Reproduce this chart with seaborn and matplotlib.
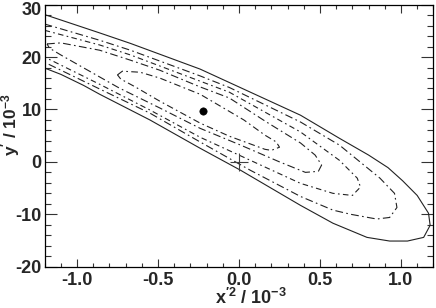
import matplotlib
matplotlib.use('Agg')
import matplotlib.pyplot as plt
import matplotlib.transforms as mtransforms
import seaborn as sns
from matplotlib.ticker import MultipleLocator, FormatStrFormatter

# contour outlines (x'^2 in 1e-3, y' in 1e-3)
outer_x = [-1.20, -0.86, -0.67, -0.24, 0.07, 0.38, 0.62, 0.80, 0.92, 1.01, 1.10, 1.17, 1.18, 1.14,
           1.04, 0.93, 0.79, 0.58, 0.38, 0.01, -0.24, -0.55, -0.86, -0.96, -1.10, -1.20]
outer_y = [28.1, 24.6, 22.6, 17.7, 13.3, 8.9, 4.5, 1.3, -1.1, -3.6, -6.4, -9.8, -12.1, -14.4,
           -15.1, -15.1, -14.4, -11.7, -8.3, -1.6, 2.6, 8.0, 12.9, 14.6, 16.7, 17.9]

c4_x = [-1.20, -0.86, -0.67, -0.24, -0.06, 0.38, 0.62, 0.87, 0.96, 0.975, 0.93, 0.85, 0.69,
        0.58, 0.38, 0.07, -0.24, -0.55, -0.86, -1.20]
c4_y = [26.3, 23.2, 21.3, 16.4, 14.2, 7.6, 3.2, -3.1, -6.0, -8.7, -10.6, -10.9, -10.0,
        -9.2, -6.6, -1.6, 3.8, 9.3, 13.9, 19.0]

c3_x = [-1.20, -0.86, -0.67, -0.24, -0.06, 0.38, 0.62, 0.73, 0.75, 0.70, 0.58, 0.38, 0.07,
        -0.24, -0.55, -0.86, -1.20]
c3_y = [25.1, 22.3, 20.4, 15.4, 13.3, 5.7, 0.3, -3.1, -4.8, -6.4, -6.0, -4.1, 0.3,
        4.7, 9.9, 14.8, 20.0]

c2_x = [-1.185, -1.10, -0.86, -0.67, -0.49, -0.24, -0.06, 0.17, 0.38, 0.47, 0.51, 0.49, 0.41,
        0.25, 0.01, -0.24, -0.49, -0.74, -0.98, -1.10, -1.17, -1.185]
c2_y = [22.5, 22.7, 21.3, 19.4, 17.5, 14.3, 12.2, 7.6, 3.6, 1.3, -0.6, -1.8, -2.0,
        0.0, 3.2, 6.4, 10.3, 14.1, 18.3, 20.4, 21.7, 22.5]

c1_x = [-0.75, -0.72, -0.61, -0.49, -0.24, 0.03, 0.16, 0.23, 0.25, 0.20, 0.16, -0.06,
        -0.24, -0.49, -0.64, -0.73, -0.75]
c1_y = [16.6, 17.3, 17.1, 16.0, 12.9, 8.0, 5.1, 3.8, 2.8, 2.2, 2.4, 4.9,
        7.4, 11.6, 14.3, 15.8, 16.6]

best_x, best_y = [-0.22], [9.7]
ref_x, ref_y = [0.0], [0.0]

sns.set_theme(style='ticks')
plt.rcParams['font.family'] = ['Liberation Sans', 'DejaVu Sans']
plt.rcParams['font.weight'] = 'bold'
plt.rcParams['axes.unicode_minus'] = False
plt.rcParams['mathtext.fontset'] = 'custom'
plt.rcParams['mathtext.rm'] = 'Liberation Sans:bold'
plt.rcParams['mathtext.it'] = 'Liberation Sans:bold'
plt.rcParams['mathtext.bf'] = 'Liberation Sans:bold'

fig = plt.figure(figsize=(4.36, 3.08), dpi=100)
ax = fig.add_axes([0.1023, 0.134, 0.8917, 0.851])

line_col = '#222222'
curves = [
    (outer_x, outer_y, '-'),
    (c4_x, c4_y, (0, (7, 3, 1.5, 3))),
    (c3_x, c3_y, (0, (5, 3, 1.5, 3))),
    (c2_x, c2_y, (0, (7, 3, 1.5, 3))),
    (c1_x, c1_y, (0, (6, 3, 1.5, 3))),
]
for cx, cy, ls in curves:
    sns.lineplot(x=cx, y=cy, sort=False, estimator=None, color=line_col,
                 lw=0.8, linestyle=ls, ax=ax)

sns.scatterplot(x=best_x, y=best_y, s=28, color='black', edgecolor='black', ax=ax, zorder=5)
sns.scatterplot(x=ref_x, y=ref_y, marker='+', s=170, color='#404040', linewidth=0.8, ax=ax, zorder=5)

ax.set_xlim(-1.2, 1.2)
ax.set_ylim(-20, 30)
ax.xaxis.set_major_locator(MultipleLocator(0.5))
ax.xaxis.set_minor_locator(MultipleLocator(0.1))
ax.yaxis.set_major_locator(MultipleLocator(10))
ax.yaxis.set_minor_locator(MultipleLocator(2))
ax.xaxis.set_major_formatter(FormatStrFormatter('%.1f'))
ax.yaxis.set_major_formatter(FormatStrFormatter('%d'))

ax.tick_params(which='both', direction='in', top=True, right=True, color='#333333', width=0.8)
ax.tick_params(axis='x', which='major', length=5.8, pad=3.5, labelsize=13)
ax.tick_params(axis='x', which='minor', length=2.9)
ax.tick_params(axis='y', which='major', length=8.6, pad=2, labelsize=13)
ax.tick_params(axis='y', which='minor', length=4.3)
for lab in ax.get_xticklabels() + ax.get_yticklabels():
    lab.set_fontweight('bold')

for sp in ax.spines.values():
    sp.set_color('black')
    sp.set_linewidth(0.9)

ax.set_xlabel(r"x$^{\prime 2}$ / 10$^{-3}$", fontsize=13, fontweight='bold')
ax.set_ylabel(r"y$^{\prime}$ / 10$^{-3}$", fontsize=12.5, fontweight='bold')
ax.xaxis.set_label_coords(0.53, -0.08)
ax.yaxis.set_label_coords(-0.058, 0.54)

# nudge the top y label down so it stays inside the figure
fig.canvas.draw()
shift = mtransforms.ScaledTranslation(0, -3 / 72, fig.dpi_scale_trans)
for tick in ax.yaxis.get_major_ticks():
    if abs(tick.get_loc() - 30) < 1e-6:
        tick.label1.set_transform(tick.label1.get_transform() + shift)

fig.savefig('out.png', dpi=100)
